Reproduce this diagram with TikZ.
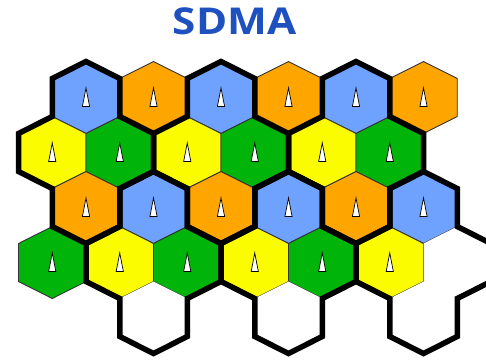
\documentclass[tikz,border=0pt]{standalone}
\usepackage{fontspec}
\newfontfamily\titlefont{Open Sans}
\definecolor{hblue}{HTML}{6FA2FF}
\definecolor{horange}{HTML}{FFA500}
\definecolor{hyellow}{HTML}{FCFC00}
\definecolor{hgreen}{HTML}{00B40A}
\definecolor{tblue}{HTML}{1E50C0}
\definecolor{edge}{HTML}{333333}
\tikzset{
  cell/.style={draw=edge, line width=0.9pt, line join=miter},
  whitecell/.style={fill=white},
  cluster/.style={draw=black, line width=5.5pt, line join=miter, miter limit=4},
  antenna/.style={draw=black, fill=white, line width=0.7pt, line join=miter},
  titlestyle/.style={text=tblue, inner sep=0pt, font=\titlefont\bfseries\fontsize{37}{37}\selectfont}
}
\begin{document}
\begin{tikzpicture}[x=1pt,y=-1pt]
\useasboundingbox (0,0) rectangle (486,360);
\fill[white] (0,0) rectangle (486,360);
\clip (0,0) rectangle (486,360);
% title
\node[titlestyle] (title) at (234.5,21.5) {\scalebox{1.14}[1]{SDMA}};
% coloured cells
\foreach \x/\y/\c in {
  86/97.5/hblue, 153.5/97.5/horange, 221/97.5/hblue, 288.5/97.5/horange, 356/97.5/hblue, 423.5/97.5/horange,
  52.25/152.5/hyellow, 119.75/152.5/hgreen, 187.25/152.5/hyellow, 254.75/152.5/hgreen, 322.25/152.5/hyellow, 389.75/152.5/hgreen,
  86/207.5/horange, 153.5/207.5/hblue, 221/207.5/horange, 288.5/207.5/hblue, 356/207.5/horange, 423.5/207.5/hblue,
  52.25/262.5/hgreen, 119.75/262.5/hyellow, 187.25/262.5/hgreen, 254.75/262.5/hyellow, 322.25/262.5/hgreen, 389.75/262.5/hyellow}
{
  \draw[cell, fill=\c] (\x,\y) +(0,-36) -- +(33.75,-19) -- +(33.75,19) -- +(0,36) -- +(-33.75,19) -- +(-33.75,-19) -- cycle;
  \draw[antenna] (\x,\y) +(0,-9.5) -- +(3.6,9) -- +(-3.6,9) -- cycle;
}
% empty cells
\foreach \x/\y in {457.25/262.5, 153.5/317.5, 288.5/317.5, 423.5/317.5}
{
  \fill[whitecell] (\x,\y) +(0,-36) -- +(33.75,-19) -- +(33.75,19) -- +(0,36) -- +(-33.75,19) -- +(-33.75,-19) -- cycle;
}
% cluster outlines
\foreach \X/\Y in {86/97.5, 221/97.5, 356/97.5, 153.5/207.5, 288.5/207.5, 423.5/207.5}
{
  \draw[cluster] (\X,\Y) +(0,-36) -- +(33.75,-19) -- +(33.75,19) -- +(67.5,36) -- +(67.5,74)
    -- +(33.75,91) -- +(33.75,129) -- +(0,146) -- +(-33.75,129) -- +(-33.75,91)
    -- +(-67.5,74) -- +(-67.5,36) -- +(-33.75,19) -- +(-33.75,-19) -- cycle;
}
\end{tikzpicture}
\end{document}
